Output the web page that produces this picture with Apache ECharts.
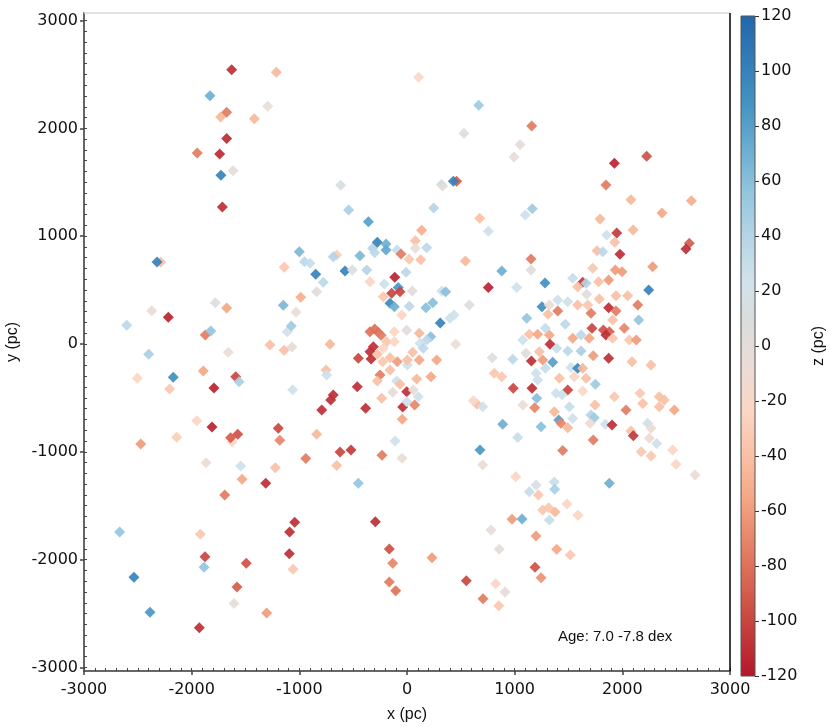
<!DOCTYPE html>
<html><head><meta charset="utf-8">
<script src="https://cdn.jsdelivr.net/npm/echarts@6/dist/echarts.min.js"></script>
<style>html,body{margin:0;padding:0;background:#fff}#c{width:830px;height:727px}</style>
</head><body><div id="c"></div>
<script>
const xValues = [
-1628,-1214,-1830,-1294,-1731,-1675,-1418,-1675,-1948,-1740,
-1616,-1728,-1715,108,666,529,994,1050,-616,320,
331,461,430,-542,-359,248,675,136,755,1158,
1926,2226,1848,2080,2641,2368,1793,1164,1099,1855,
1948,2100,-2288,-2322,-1000,-952,-1140,-987,-1780,-1675,
-1149,-1031,-2371,-2217,-2603,-1112,-1075,-1873,-1823,-1273,
-1142,-1068,-1660,-2399,-1892,-2505,-2171,-1591,-1560,-2204,
-1793,-1062,-1953,-1811,-1195,-1625,-1638,-1572,-2139,-2473,
-1182,-1867,-1545,-1223,-1532,-1312,-1693,-940,-1043,-1090,
-2669,-1920,-1876,-1093,-1493,-1885,-1059,-2536,-1579,-1607,
-1303,-2387,-1929,-653,-622,-520,-232,-46,-452,-294,
-164,-133,-164,-105,232,551,703,1010,678,975,
780,857,824,910,706,852,1446,2176,2266,2468,
2498,2675,1879,1198,1136,1368,1372,1220,1486,1588,
1260,1316,1375,1322,1068,1198,1390,1517,1189,1245,
77,-319,-300,-276,-195,-195,-93,-56,77,183,
-653,-685,-437,-901,19,127,542,-848,-777,-839,
-576,-508,-374,-114,-9,-344,-211,-81,-142,-65,
-158,-118,-220,49,322,359,-49,21,176,239,
579,309,399,437,755,880,1019,-344,-267,-300,
-240,-118,-3,114,220,183,-189,-118,121,151,
-715,-313,-344,-334,-452,-220,-276,-226,-158,-90,
-158,-251,-276,3,53,114,3,276,90,223,
-96,-65,-3,-40,-133,59,105,-3,71,-235,
-462,-685,-709,-792,-384,-752,-746,-44,-839,-111,
452,650,616,703,792,982,811,880,987,889,
1028,2622,2591,1765,1818,1978,1929,2282,1152,1152,
1725,1935,1997,1282,1539,1632,1663,1585,1780,1873,
2245,1669,1400,1493,1254,1322,1400,1585,1678,1786,
1873,1941,2050,2143,1941,1709,1112,1310,1910,2152,
1718,1824,1879,1848,2018,1136,1214,1322,1285,1470,
1539,1616,1693,1910,2065,2130,1075,1328,1105,1229,
1390,1493,1616,1155,1260,1353,1285,1730,1873,2090,
2266,1523,1585,1632,1198,1214,1415,1554,1663,1749,
1161,1493,1632,1384,1440,1205,1075,1186,1508,1746,
1926,2164,2189,2034,2343,2390,2343,2483,1368,1709,
1740,1409,1430,1539,1493,1700,1245,1842,1904,2080,
2102,2235,2266,2251,2319,1730
];
const yValues = [
2544,2520,2303,2205,2105,2149,2090,1905,1772,1762,
1608,1565,1271,2474,2214,1955,1735,1849,1472,1480,
1465,1509,1509,1243,1134,1262,1166,1055,1045,2022,
1676,1741,1475,1339,1329,1215,1160,1255,1197,1011,
1030,1057,761,761,856,763,711,433,383,334,
359,294,309,248,173,114,167,83,121,-9,
-58,-28,-77,-96,-250,-318,-309,-303,-350,-417,
-408,-424,-711,-770,-782,-906,-869,-838,-865,-928,
-893,-1101,-1132,-1147,-1255,-1292,-1401,-1062,-1654,-1744,
-1744,-1765,-1973,-1945,-2034,-2071,-2090,-2164,-2254,-2406,
-2495,-2489,-2632,-1126,-1002,-983,-1033,-1060,-1292,-1648,
-1902,-2034,-2208,-2288,-1982,-2195,-1119,-1231,-983,-1626,
-1725,-1904,-2223,-2300,-2362,-2427,-989,-999,-1039,-983,
-1116,-1215,-1292,-1308,-1370,-1280,-1348,-1401,-1484,-1589,
-1540,-1518,-1558,-1633,-1623,-1781,-1904,-1957,-2071,-2168,
958,888,847,943,928,872,872,835,888,893,
826,810,819,748,785,782,770,647,572,485,
677,686,686,619,665,578,557,523,470,485,
378,346,439,492,492,485,269,350,337,383,
362,195,238,269,523,677,523,114,108,140,
80,114,127,99,68,37,21,21,6,-40,
-3,-25,-71,-139,-133,-40,-96,-164,-127,-164,
-241,-288,-343,-195,-77,-148,-148,-148,-325,-303,
-343,-374,-442,-584,-448,-427,-489,-535,-566,-504,
-396,-473,-519,-612,-597,-241,-288,-698,-838,-900,
-3,-560,-526,-582,-127,-142,-272,-303,-411,-745,
-868,934,881,866,856,832,943,717,788,686,
702,686,671,566,609,572,563,532,578,594,
501,461,408,392,346,362,306,362,362,417,
337,448,448,362,306,285,238,275,223,223,
145,130,114,83,145,90,90,83,145,182,
53,83,53,53,37,37,37,-3,-86,-71,
-40,-65,-65,-158,-148,-170,-225,-108,-133,-164,
-195,-219,-225,-225,-272,-334,-318,-303,-318,-374,
-411,-427,-436,-458,-470,-504,-566,-591,-582,-566,
-489,-458,-551,-612,-489,-520,-582,-612,-628,-659,
-684,-705,-736,-690,-776,-736,-767,-745,-751,-807,
-850,-736,-782,-875,-922,-890
];
const zValues = [
-110,-45,70,-5,-45,-75,-45,-112,-75,-112,
0,100,-110,-20,50,3,0,-3,15,30,
0,-90,100,45,80,40,-40,-50,25,-75,
-115,-95,-75,-45,-50,-55,-45,50,25,25,
-105,-45,-40,100,65,35,-35,-50,10,-55,
65,-5,-5,-115,35,20,50,-75,55,-40,
-40,5,-5,45,-55,-25,90,-100,45,-35,
-115,25,-25,-115,-100,-25,-90,-95,-30,-60,
-70,-8,25,-40,-55,-110,-75,-75,-110,-110,
55,-35,-100,-110,-95,55,-35,100,-90,0,
-60,85,-110,-40,-100,-105,-75,-5,55,-110,
-95,-70,-75,-80,-60,-100,-8,-25,85,-60,
0,0,-25,0,-75,-35,-75,-35,-35,-25,
-25,-10,70,15,30,30,45,-35,-25,-25,
-35,-35,-45,30,70,-60,-55,-35,-95,-65,
-40,40,35,100,70,75,30,-75,-5,35,
-30,40,65,30,-35,-40,-45,100,35,5,
100,10,40,-115,35,-25,25,85,-100,-100,
95,70,-35,5,25,60,-25,35,60,60,
5,100,25,25,-115,70,25,-80,-80,-80,
-75,-25,5,-45,60,35,-35,-25,25,35,
-45,-110,-110,-110,-100,-25,-40,-35,-40,-60,
-40,-75,-40,25,-40,-55,-40,-55,-45,-55,
25,-40,-110,-110,0,0,25,25,-70,-40,
-110,-110,-110,-110,-110,-40,25,-55,-45,25,
-8,-40,-20,25,5,35,-35,-35,-100,70,
30,-90,-110,-40,35,-110,-40,-60,-75,3,
-35,-60,-60,90,30,-105,40,-40,-40,-60,
100,3,25,25,90,-10,-75,-40,-35,-40,
-110,-40,-40,-75,-75,-75,55,-40,-40,55,
-100,-95,-90,-110,-70,-40,-55,-55,30,35,
-55,35,-55,-35,-35,-60,25,-110,5,-40,
30,35,45,-110,-60,80,30,-60,-110,-40,
-40,25,95,-45,25,25,-40,-25,-40,50,
-110,-100,-20,25,25,60,-8,-70,30,-40,
-35,-35,-40,-75,-40,-40,-40,-55,-45,40,
50,80,-70,25,-45,-10,60,25,-110,-40,
-105,25,-10,-10,25,-75
];
const xTicks = [-3000,-2000,-1000,0,1000,2000,3000];
const yTicks = [-3000,-2000,-1000,0,1000,2000,3000];
const zTicks = [-120,-100,-80,-60,-40,-20,0,20,40,60,80,100,120];
const zMin = -120, zMax = 120;
const cmap = ['#b2182b','#c43c3c','#d6604d','#e58267','#f4a582','#f9c0a5','#fbd6c4','#ecdcd5','#dcdcdc','#d0e2ec','#b5d4e6','#92c5de','#6aacd0','#4393c3','#327cb7','#2166ac'];

const xMinor = [], yMinor = [];
for (let v = -3000; v <= 3000; v += 100) { xMinor.push(v); yMinor.push(v); }

const chart = echarts.init(document.getElementById('c'), null, {renderer: 'canvas'});
const data = xValues.map((x, i) => [x, yValues[i], zValues[i]]);
const labelFont = {fontFamily: 'DejaVu Sans', fontSize: 16, color: '#111'};
const fmt = v => String(v);
const G = {left: 84, top: 13, width: 646, height: 658};
const CB = {left: 741, top: 16, width: 14, height: 660};

chart.setOption({
  animation: false,
  backgroundColor: '#fff',
  grid: [
    {left: G.left, top: G.top, width: G.width, height: G.height, containLabel: false, outerBoundsMode: 'none'},
    {left: CB.left, top: CB.top, width: CB.width, height: CB.height, containLabel: false, outerBoundsMode: 'none'}
  ],
  xAxis: [
    {type: 'value', gridIndex: 0, min: -3000, max: 3000, interval: 1000,
     name: 'x (pc)', nameLocation: 'middle', nameGap: 36,
     nameTextStyle: {fontFamily: 'Liberation Sans', fontSize: 16, color: '#111'},
     axisLine: {show: true, onZero: false, lineStyle: {color: '#666', width: 2}},
     axisTick: {show: true, inside: false, length: 4, customValues: xTicks, lineStyle: {color: '#444', width: 1.5}},
     axisLabel: Object.assign({margin: 11, customValues: xTicks, formatter: fmt}, labelFont),
     splitLine: {show: false}},
    {type: 'value', gridIndex: 0, min: -3000, max: 3000, position: 'bottom',
     axisLine: {show: false, onZero: false}, axisLabel: {show: false}, splitLine: {show: false},
     axisTick: {show: true, inside: true, length: 3, customValues: xMinor, lineStyle: {color: '#444', width: 1}}},
    {type: 'value', gridIndex: 1, min: 0, max: 1, show: false}
  ],
  yAxis: [
    {type: 'value', gridIndex: 0, min: -3033, max: 3070,
     name: 'y (pc)', nameLocation: 'middle', nameGap: 60, nameRotate: 90,
     nameTextStyle: {fontFamily: 'Liberation Sans', fontSize: 16, color: '#111'},
     axisLine: {show: true, onZero: false, lineStyle: {color: '#666', width: 2}},
     axisTick: {show: true, inside: false, length: 4, customValues: yTicks, lineStyle: {color: '#444', width: 1.5}},
     axisLabel: Object.assign({margin: 6, customValues: yTicks, formatter: fmt}, labelFont),
     splitLine: {show: false}},
    {type: 'value', gridIndex: 0, min: -3033, max: 3070, position: 'left',
     axisLine: {show: false, onZero: false}, axisLabel: {show: false}, splitLine: {show: false},
     axisTick: {show: true, inside: true, length: 3, customValues: yMinor, lineStyle: {color: '#444', width: 1}}},
    {type: 'value', gridIndex: 1, min: zMin, max: zMax, position: 'right',
     name: 'z (pc)', nameLocation: 'middle', nameGap: 56, nameRotate: 90,
     nameTextStyle: {fontFamily: 'Liberation Sans', fontSize: 16, color: '#111'},
     axisLine: {show: false, onZero: false},
     axisTick: {show: true, inside: false, length: 4, customValues: zTicks, lineStyle: {color: '#333', width: 1}},
     axisLabel: Object.assign({margin: 6, customValues: zTicks, formatter: fmt}, labelFont),
     splitLine: {show: false}}
  ],
  visualMap: {
    show: false, type: 'continuous', min: zMin, max: zMax, dimension: 2, seriesIndex: 0,
    inRange: {color: cmap}
  },
  graphic: [
    {type: 'rect', shape: {x: CB.left, y: CB.top, width: CB.width, height: CB.height},
     style: {fill: {type: 'linear', x: 0, y: 1, x2: 0, y2: 0,
       colorStops: cmap.map((c, i) => ({offset: i / (cmap.length - 1), color: c}))},
       stroke: '#555', lineWidth: 1}, z: 10},
    {type: 'line', shape: {x1: G.left, y1: G.top, x2: G.left + G.width, y2: G.top},
     style: {stroke: '#d8d8d8', lineWidth: 1.5}, z: 10},
    {type: 'line', shape: {x1: G.left + G.width, y1: G.top, x2: G.left + G.width, y2: G.top + G.height},
     style: {stroke: '#000', lineWidth: 1.5}, z: 10},
    {type: 'text', left: 558, top: 629,
     style: {text: 'Age: 7.0 -7.8 dex', fontFamily: 'Liberation Sans', fontSize: 15, fill: '#111'}, z: 10}
  ],
  series: [{
    type: 'scatter', xAxisIndex: 0, yAxisIndex: 0,
    symbol: 'diamond', symbolSize: 11,
    itemStyle: {opacity: 0.92},
    data: data
  }]
});
</script>
</body></html>
